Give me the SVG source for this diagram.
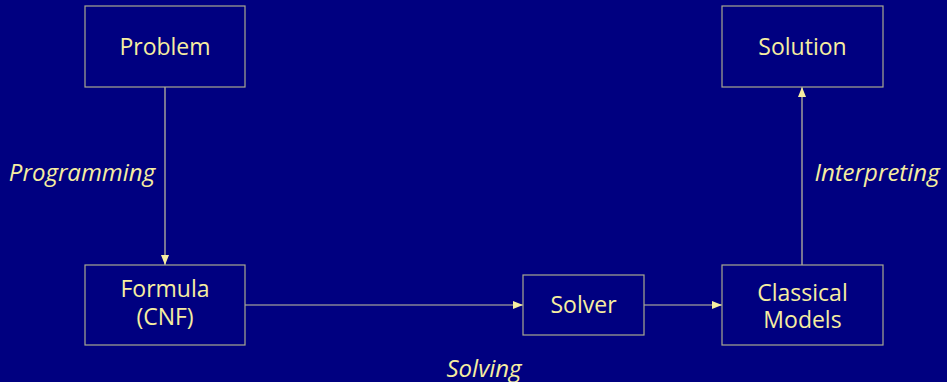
<svg xmlns="http://www.w3.org/2000/svg" width="947" height="382" viewBox="0 0 947 382">
<defs>
<style>
.box{fill:#000080;stroke:#a8a890;stroke-width:1.2}
.t{fill:#f6eea0;font-family:"Open Sans","Liberation Sans",sans-serif;font-size:23px;text-anchor:middle}
.lbl{fill:#f6eea0;font-family:"Open Sans","Liberation Sans",sans-serif;font-size:24px;font-style:italic;text-anchor:middle}
.c{stroke:#c8c4a0;stroke-width:1.2;fill:none;marker-end:url(#ah)}
</style>
<marker id="ah" viewBox="0 0 10 10" refX="10" refY="5" markerWidth="10" markerHeight="10" markerUnits="userSpaceOnUse" orient="auto">
<path d="M0,1 L10,5 L0,9 z" fill="#f6eea0"/>
</marker>
</defs>
<rect width="947" height="382" fill="#000080"/>
<g id="connectors">
<line class="c" x1="165" y1="87" x2="165" y2="265"/>
<line class="c" x1="245" y1="305" x2="523" y2="305"/>
<line class="c" x1="644" y1="305" x2="722" y2="305"/>
<line class="c" x1="802" y1="265" x2="802" y2="87"/>
<text class="lbl" x="82" y="181">Programming</text>
<text class="lbl" x="877" y="181">Interpreting</text>
<text class="lbl" x="484" y="377">Solving</text>
</g>
<g id="problem">
<rect class="box" x="85" y="6" width="160" height="81"/>
<text class="t" x="165" y="55">Problem</text>
</g>
<g id="formula">
<rect class="box" x="85" y="265" width="160" height="80"/>
<text class="t" x="165" y="297">Formula</text>
<text class="t" x="165" y="325">(CNF)</text>
</g>
<g id="solver">
<rect class="box" x="523" y="275" width="121" height="60"/>
<text class="t" x="583.5" y="313">Solver</text>
</g>
<g id="classical">
<rect class="box" x="722" y="265" width="161" height="80"/>
<text class="t" x="802.5" y="301">Classical</text>
<text class="t" x="802.5" y="328">Models</text>
</g>
<g id="solution">
<rect class="box" x="722" y="6" width="161" height="81"/>
<text class="t" x="802.5" y="55">Solution</text>
</g>
</svg>
